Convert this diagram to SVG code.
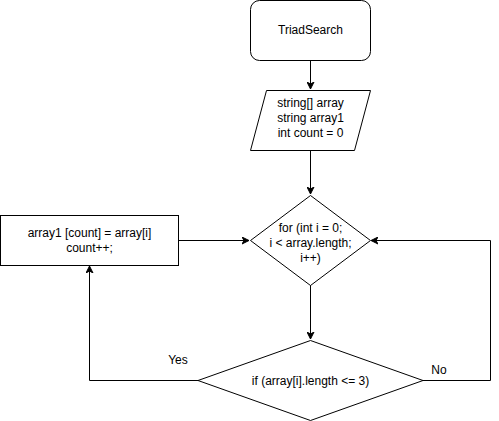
<svg xmlns="http://www.w3.org/2000/svg" width="499" height="421" viewBox="0 0 499 421">
<style>
.s{fill:#fff;stroke:#000;stroke-width:1}
.t{font-family:"Liberation Sans",Arial,sans-serif;font-size:12px;fill:#000;text-anchor:middle}
.c{fill:none;stroke:#000;stroke-width:1}
</style>
<defs>
<marker id="a" markerWidth="8" markerHeight="8" refX="7" refY="4" orient="auto" markerUnits="userSpaceOnUse">
<path d="M0,0.5 L7,4 L0,7.5 L2,4 Z" fill="#000" stroke="#000"/>
</marker>
</defs>
<rect width="499" height="421" fill="#fff"/>
<g id="connectors">
<path class="c" d="M310.5,60 V89" marker-end="url(#a)"/>
<path class="c" d="M310.5,150 V194" marker-end="url(#a)"/>
<path class="c" d="M310.5,285 V339" marker-end="url(#a)"/>
<path class="c" d="M178,240.5 H249" marker-end="url(#a)"/>
<path class="c" d="M198,380.5 H89.5 V266" marker-end="url(#a)"/>
<path class="c" d="M423,380.5 H490.5 V240.5 H371" marker-end="url(#a)"/>
<text class="t" x="178" y="364">Yes</text>
<text class="t" x="439" y="374">No</text>
</g>
<g id="start">
<rect class="s" x="250.5" y="0.5" width="120" height="60" rx="9" ry="9"/>
<text class="t" x="310.5" y="34">TriadSearch</text>
</g>
<g id="input">
<path class="s" d="M266.5,90.5 H370.5 L354.5,150.5 H250.5 Z"/>
<text class="t" x="310.5" y="107">string[] array</text>
<text class="t" x="310.5" y="122">string array1</text>
<text class="t" x="310.5" y="137">int count = 0</text>
</g>
<g id="loop">
<path class="s" d="M310.5,195.5 L370.5,240.5 L310.5,285.5 L250.5,240.5 Z"/>
<text class="t" x="310.5" y="232">for (int i = 0;</text>
<text class="t" x="310.5" y="247">i &lt; array.length;</text>
<text class="t" x="310.5" y="262">i++)</text>
</g>
<g id="assign">
<rect class="s" x="0.5" y="215.5" width="178" height="50"/>
<text class="t" x="89.5" y="237">array1 [count] = array[i]</text>
<text class="t" x="89.5" y="252">count++;</text>
</g>
<g id="cond">
<path class="s" d="M310.5,340.5 L423,380.5 L310.5,420.5 L198,380.5 Z"/>
<text class="t" x="310.5" y="385">if (array[i].length &lt;= 3)</text>
</g>
</svg>
